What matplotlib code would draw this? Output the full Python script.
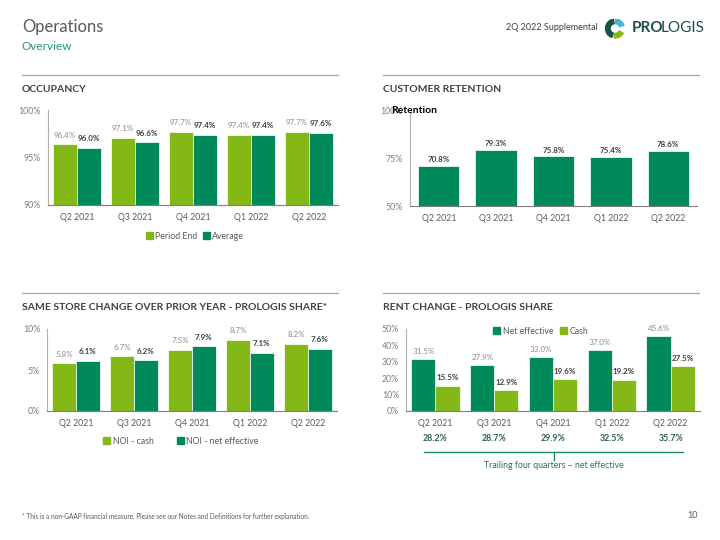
import numpy as np
import matplotlib.pyplot as plt
from matplotlib.patches import Patch, Wedge, Circle

plt.rcParams['font.family'] = ['Lato', 'DejaVu Sans']

W, H = 720, 540
LIGHT = "#84b817"
DARK = "#008a5a"
GREY_TXT = "#8c8c8c"
DARK_TXT = "#404040"

quarters = ["Q2 2021", "Q3 2021", "Q4 2021", "Q1 2022", "Q2 2022"]

occ_period_end = [96.4, 97.1, 97.7, 97.4, 97.7]
occ_average = [96.0, 96.6, 97.4, 97.4, 97.6]

retention = [70.8, 79.3, 75.8, 75.4, 78.6]

noi_cash = [5.8, 6.7, 7.5, 8.7, 8.2]
noi_net_eff = [6.1, 6.2, 7.9, 7.1, 7.6]

rent_net_eff = [31.5, 27.9, 33.0, 37.0, 45.6]
rent_cash = [15.5, 12.9, 19.6, 19.2, 27.5]
trailing_net_eff = [28.2, 28.7, 29.9, 32.5, 35.7]


def fx(x):
    return x / W


def fy(y):
    return 1 - y / H


def add_ax(fig, left, top, right, bottom):
    return fig.add_axes([fx(left), fy(bottom), (right - left) / W, (bottom - top) / H])


def style_ax(ax, ylim, yticks, yticklabels):
    ax.set_xlim(-0.5, 4.5)
    ax.set_ylim(*ylim)
    ax.set_yticks(yticks)
    ax.set_yticklabels(yticklabels)
    ax.set_xticks(range(5))
    ax.set_xticklabels(quarters)
    for s in ["top", "right"]:
        ax.spines[s].set_visible(False)
    ax.spines["left"].set_color("#b0b0b0")
    ax.spines["bottom"].set_color("#7f7f7f")
    ax.tick_params(length=0, labelsize=6.3, colors="#7f7f7f", pad=5)
    ax.tick_params(axis="x", colors="#595959", pad=6)


def label_bars(ax, bars, vals, bold, off=4):
    for b, v in zip(bars, vals):
        ax.annotate(f"{v:.1f}%", (b.get_x() + b.get_width() / 2, v),
                    xytext=(0, off), textcoords="offset points", ha="center", va="bottom",
                    fontsize=5.8, color=DARK_TXT if bold else GREY_TXT,
                    fontweight="bold" if bold else "normal")


fig = plt.figure(figsize=(7.2, 5.4), dpi=100)

# header
fig.text(fx(22), fy(27), "Operations", fontsize=12, color="#595959", va="center")
fig.text(fx(22), fy(47), "Overview", fontsize=8.5, color="#1e9a6e", va="center")
fig.text(fx(598), fy(28), "2Q 2022 Supplemental", fontsize=6.5, color="#404040", va="center", ha="right")
fig.text(fx(632), fy(28), "PRO", fontsize=11, color="#1d4f4b", va="center", fontweight="bold")
fig.text(fx(661), fy(28), "LOGIS", fontsize=11, color="#1d4f4b", va="center")

# simple globe mark
logo = fig.add_axes([fx(605), fy(39), 20 / W, 21 / H])
logo.set_xlim(-1, 1)
logo.set_ylim(-1, 1)
logo.set_aspect("equal")
logo.axis("off")
logo.add_patch(Wedge((0, 0), 0.95, 100, 250, color="#1d4f4b"))
logo.add_patch(Wedge((0, 0), 0.95, 20, 85, color="#4cb3d9"))
logo.add_patch(Wedge((0, 0), 0.95, 265, 330, color="#84b817"))
logo.add_patch(Circle((0, 0), 0.35, color="white"))

# separators
for y in (75, 293):
    fig.add_artist(plt.Line2D([fx(22), fx(338)], [fy(y), fy(y)], color="#a6a6a6", lw=0.9))
    fig.add_artist(plt.Line2D([fx(383), fx(699)], [fy(y), fy(y)], color="#a6a6a6", lw=0.9))

title_kw = dict(fontsize=7.5, color="#404040", fontweight="bold", va="center")
fig.text(fx(22), fy(90), "OCCUPANCY", **title_kw)
fig.text(fx(383), fy(90), "CUSTOMER RETENTION", **title_kw)
fig.text(fx(22), fy(308), "SAME STORE CHANGE OVER PRIOR YEAR - PROLOGIS SHARE*", **title_kw)
fig.text(fx(383), fy(308), "RENT CHANGE - PROLOGIS SHARE", **title_kw)

x = np.arange(5)
w = 0.41

# occupancy
ax1 = add_ax(fig, 48, 110, 338, 205)
b1 = ax1.bar(x - w / 2, occ_period_end, w, color=LIGHT, edgecolor="white", linewidth=0.5)
b2 = ax1.bar(x + w / 2, occ_average, w, color=DARK, edgecolor="white", linewidth=0.5)
style_ax(ax1, (90, 100), [90, 95, 100], ["90%", "95%", "100%"])
label_bars(ax1, b1, occ_period_end, False, 4)
label_bars(ax1, b2, occ_average, True, 4)
fig.legend([Patch(color=LIGHT), Patch(color=DARK)], ["Period End", "Average"],
           loc="center", bbox_to_anchor=(fx(195), fy(236)), ncol=2, frameon=False,
           fontsize=6.3, handlelength=0.8, handleheight=0.8, handletextpad=0.3,
           columnspacing=0.6, labelcolor="#595959")

# retention
ax2 = add_ax(fig, 410, 110, 697, 206)
b3 = ax2.bar(x, retention, 0.72, color=DARK, edgecolor="white", linewidth=0.5)
style_ax(ax2, (50, 100), [50, 75, 100], ["50%", "75%", "100%"])
ax2.spines["left"].set_bounds(50, 98.5)
label_bars(ax2, b3, retention, True, 2)
fig.text(fx(391), fy(111), "Retention", fontsize=7.5, color="black", fontweight="bold", va="center")

# same store
ax3 = add_ax(fig, 47, 329, 337, 411)
b4 = ax3.bar(x - w / 2, noi_cash, w, color=LIGHT, edgecolor="white", linewidth=0.5)
b5 = ax3.bar(x + w / 2, noi_net_eff, w, color=DARK, edgecolor="white", linewidth=0.5)
style_ax(ax3, (0, 10), [0, 5, 10], ["0%", "5%", "10%"])
label_bars(ax3, b4, noi_cash, False, 4)
label_bars(ax3, b5, noi_net_eff, True, 4)
fig.legend([Patch(color=LIGHT), Patch(color=DARK)], ["NOI - cash", "NOI - net effective"],
           loc="center", bbox_to_anchor=(fx(181), fy(441)), ncol=2, frameon=False,
           fontsize=6.3, handlelength=0.8, handleheight=0.8, handletextpad=0.3,
           columnspacing=2.6, labelcolor="#595959")

# rent change
ax4 = add_ax(fig, 406, 329, 700, 411)
b6 = ax4.bar(x - w / 2, rent_net_eff, w, color=DARK, edgecolor="white", linewidth=0.5)
b7 = ax4.bar(x + w / 2, rent_cash, w, color=LIGHT, edgecolor="white", linewidth=0.5)
style_ax(ax4, (0, 50), [0, 10, 20, 30, 40, 50], ["0%", "10%", "20%", "30%", "40%", "50%"])
label_bars(ax4, b6, rent_net_eff, False, 3)
label_bars(ax4, b7, rent_cash, True, 3)
fig.legend([Patch(color=DARK), Patch(color=LIGHT)], ["Net effective", "Cash"],
           loc="center", bbox_to_anchor=(fx(541), fy(331)), ncol=2, frameon=False,
           fontsize=6.3, handlelength=0.8, handleheight=0.8, handletextpad=0.3,
           columnspacing=0.8, labelcolor="#595959")

for i, v in enumerate(trailing_net_eff):
    ax4.annotate(f"{v:.1f}%", (i, 0), xytext=(0, -20), textcoords="offset points",
                 ha="center", va="center", fontsize=6.3, fontweight="bold", color="#2f5f55")

fig.add_artist(plt.Line2D([fx(424), fx(683)], [fy(452), fy(452)], color="#1e8a64", lw=1.0))
fig.add_artist(plt.Line2D([fx(554), fx(554)], [fy(452), fy(460)], color="#1e8a64", lw=1.0))
fig.text(fx(554), fy(465), "Trailing four quarters \u2013 net effective", fontsize=6.3,
         color="#2f6f60", ha="center", va="center")

# footer
fig.text(fx(22), fy(516), "* This is a non-GAAP financial measure. Please see our Notes and Definitions for further explanation.",
         fontsize=4.7, color="#595959", va="center")
fig.text(fx(698), fy(516), "10", fontsize=6.5, color="#595959", va="center", ha="right")

fig.savefig("out.png", dpi=100)
